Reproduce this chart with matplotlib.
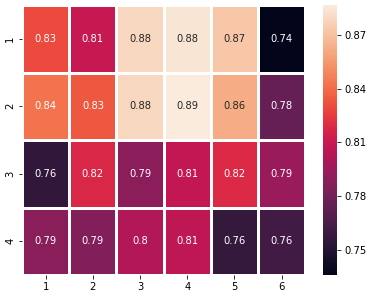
import matplotlib
matplotlib.use("Agg")
import matplotlib.pyplot as plt
import seaborn as sns
import numpy as np

rows = ["1", "2", "3", "4"]
cols = ["1", "2", "3", "4", "5", "6"]
values = [
    [0.830, 0.810, 0.879, 0.884, 0.872, 0.736],
    [0.842, 0.834, 0.879, 0.8867, 0.862, 0.776],
    [0.756, 0.818, 0.789, 0.808, 0.819, 0.794],
    [0.788, 0.786, 0.802, 0.807, 0.757, 0.762],
]
cbar_ticks = [0.75, 0.78, 0.81, 0.84, 0.87]

fig = plt.figure(figsize=(369/72, 297/72), dpi=72)
ax = fig.add_axes([0.06, 0.074, 0.767, 0.909])
cax = fig.add_axes([0.875, 0.074, 0.038, 0.909])
sns.heatmap(np.array(values), ax=ax, cbar_ax=cax, cmap="rocket", annot=True,
            linewidths=1.4, linecolor="white", xticklabels=cols, yticklabels=rows,
            annot_kws={"fontsize": 10}, cbar_kws={"ticks": cbar_ticks})
ax.tick_params(labelsize=10)
plt.setp(ax.get_yticklabels(), rotation=90, va="center")
cax.tick_params(labelsize=10)
cax.yaxis.set_major_formatter(matplotlib.ticker.FormatStrFormatter('%.2f'))
fig.savefig("out.png", dpi=72)
